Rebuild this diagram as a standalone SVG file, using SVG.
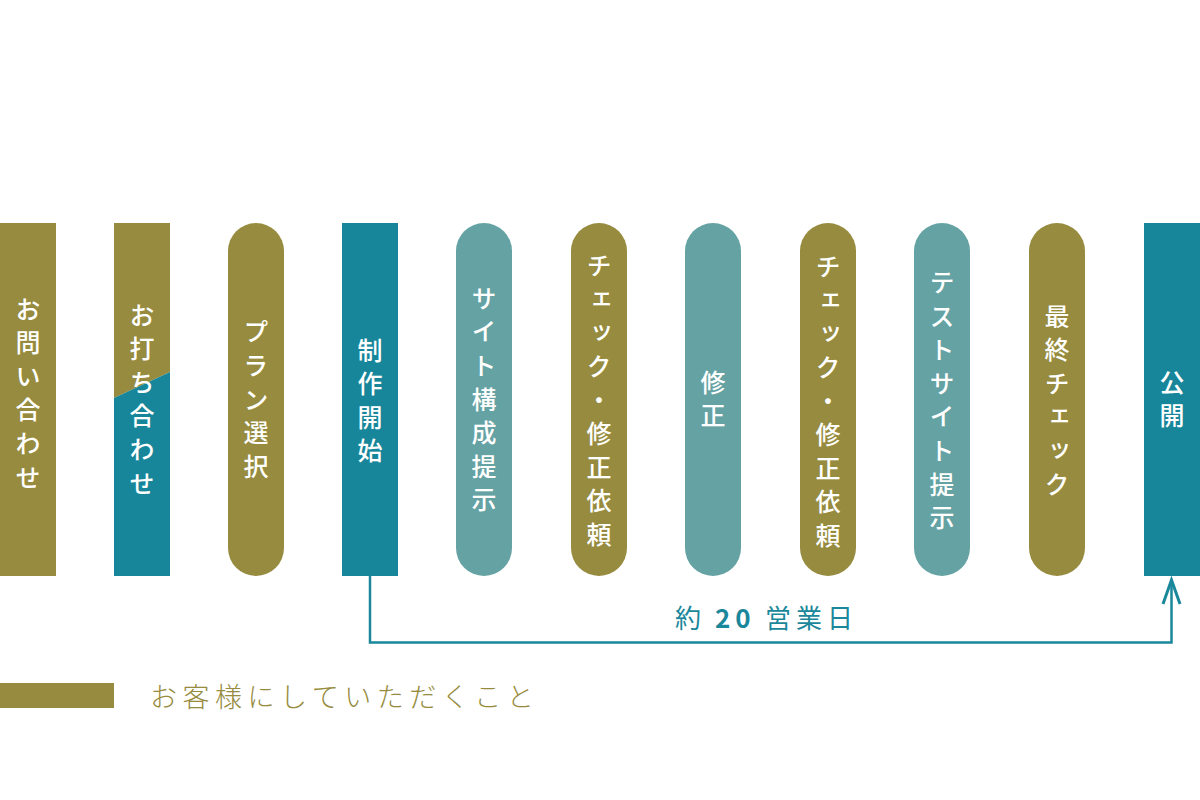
<svg xmlns="http://www.w3.org/2000/svg" width="1200" height="800" viewBox="0 0 1200 800">
  <style>
    .olive { fill: #968b3e; }
    .teal { fill: #17869a; }
    .lteal { fill: #65a2a3; }
    .v { font-family: "Noto Sans CJK JP", "Noto Sans", sans-serif; font-size: 25px; font-weight: 500; fill: #ffffff; writing-mode: vertical-rl; text-anchor: middle; }
    .conn { fill: none; stroke: #1a879b; stroke-width: 2.5; }
    .head { fill: none; stroke: #1a879b; stroke-width: 3; stroke-linejoin: miter; }
    .days { font-family: "Noto Sans CJK JP", "Noto Sans", sans-serif; font-size: 26px; fill: #1a879b; letter-spacing: 5px; }
    .legend { font-family: "Noto Sans CJK JP", "Noto Sans", sans-serif; font-size: 27px; font-weight: 300; fill: #968b3e; letter-spacing: 5.5px; }
  </style>
  <rect width="1200" height="800" fill="#ffffff"/>

  <g id="node-toiawase">
    <rect class="olive" x="0" y="223" width="56" height="353"/>
    <text class="v" x="28"><tspan y="309">お</tspan><tspan y="342.6">問</tspan><tspan y="376.2">い</tspan><tspan y="409.8">合</tspan><tspan y="443.4">わ</tspan><tspan y="477">せ</tspan></text>
  </g>

  <g id="node-uchiawase">
    <polygon class="olive" points="114,223 170,223 170,372 114,398"/>
    <polygon class="teal" points="114,398 170,372 170,576 114,576"/>
    <text class="v" x="142"><tspan y="315">お</tspan><tspan y="348.6">打</tspan><tspan y="382.2">ち</tspan><tspan y="415.8">合</tspan><tspan y="449.4">わ</tspan><tspan y="483">せ</tspan></text>
  </g>

  <g id="node-plan">
    <rect class="olive" x="228" y="223" width="56" height="353" rx="28" ry="28"/>
    <text class="v" x="256"><tspan y="331.8">プ</tspan><tspan y="365.4">ラ</tspan><tspan y="399">ン</tspan><tspan y="432.6">選</tspan><tspan y="466.2">択</tspan></text>
  </g>

  <g id="node-start">
    <rect class="teal" x="342" y="223" width="56" height="353"/>
    <text class="v" x="370"><tspan y="350.1">制</tspan><tspan y="383.7">作</tspan><tspan y="417.3">開</tspan><tspan y="450.9">始</tspan></text>
  </g>

  <g id="node-structure">
    <rect class="lteal" x="456" y="223" width="56" height="353" rx="28" ry="28"/>
    <text class="v" x="484"><tspan y="298.2">サ</tspan><tspan y="331.8">イ</tspan><tspan y="365.4">ト</tspan><tspan y="399">構</tspan><tspan y="432.6">成</tspan><tspan y="466.2">提</tspan><tspan y="499.8">示</tspan></text>
  </g>

  <g id="node-check1">
    <rect class="olive" x="571" y="223" width="56" height="353" rx="28" ry="28"/>
    <text class="v" x="599"><tspan y="265.6">チ</tspan><tspan y="299.2">ェ</tspan><tspan y="332.8">ッ</tspan><tspan y="366.4">ク</tspan><tspan y="400">・</tspan><tspan y="433.6">修</tspan><tspan y="467.2">正</tspan><tspan y="500.8">依</tspan><tspan y="534.4">頼</tspan></text>
  </g>

  <g id="node-fix">
    <rect class="lteal" x="685" y="223" width="56" height="353" rx="28" ry="28"/>
    <text class="v" x="713"><tspan y="382.2">修</tspan><tspan y="415.8">正</tspan></text>
  </g>

  <g id="node-check2">
    <rect class="olive" x="800" y="223" width="56" height="353" rx="28" ry="28"/>
    <text class="v" x="828"><tspan y="266.6">チ</tspan><tspan y="300.2">ェ</tspan><tspan y="333.8">ッ</tspan><tspan y="367.4">ク</tspan><tspan y="401">・</tspan><tspan y="434.6">修</tspan><tspan y="468.2">正</tspan><tspan y="501.8">依</tspan><tspan y="535.4">頼</tspan></text>
  </g>

  <g id="node-testsite">
    <rect class="lteal" x="914" y="223" width="56" height="353" rx="28" ry="28"/>
    <text class="v" x="942"><tspan y="282.4">テ</tspan><tspan y="316">ス</tspan><tspan y="349.6">ト</tspan><tspan y="383.2">サ</tspan><tspan y="416.8">イ</tspan><tspan y="450.4">ト</tspan><tspan y="484">提</tspan><tspan y="517.6">示</tspan></text>
  </g>

  <g id="node-finalcheck">
    <rect class="olive" x="1029" y="223" width="56" height="353" rx="28" ry="28"/>
    <text class="v" x="1057"><tspan y="316">最</tspan><tspan y="349.6">終</tspan><tspan y="383.2">チ</tspan><tspan y="416.8">ェ</tspan><tspan y="450.4">ッ</tspan><tspan y="484">ク</tspan></text>
  </g>

  <g id="node-publish">
    <rect class="teal" x="1144" y="223" width="56" height="353"/>
    <text class="v" x="1172"><tspan y="382.2">公</tspan><tspan y="415.8">開</tspan></text>
  </g>

  <g id="connectors">
    <polyline class="conn" points="370,576 370,642.5 1171.5,642.5 1171.5,579"/>
    <polyline class="head" points="1163,604 1171.5,580 1180,604"/>
    <text class="days" y="628"><tspan x="675">約</tspan><tspan x="715" font-weight="700">20</tspan><tspan x="765">営業日</tspan></text>
  </g>

  <g id="legend">
    <rect class="olive" x="0" y="683" width="114" height="25"/>
    <text class="legend" x="150" y="707">お客様にしていただくこと</text>
  </g>
</svg>
